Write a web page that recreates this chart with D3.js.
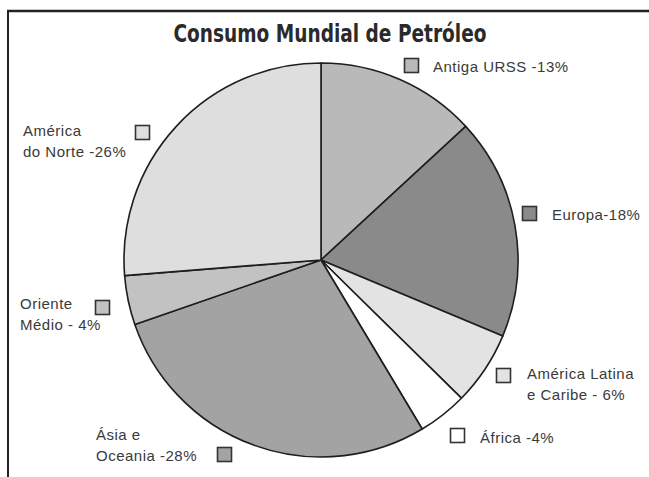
<!DOCTYPE html>
<html><head><meta charset="utf-8">
<script src="https://cdn.jsdelivr.net/npm/d3@7"></script>
<style>html,body{margin:0;padding:0;background:#fff;}svg{display:block;}</style>
</head><body>
<svg id="c" width="649" height="477"></svg>
<script>
const regions = ["Antiga URSS", "Europa", "América Latina e Caribe", "África", "Ásia e Oceania", "Oriente Médio", "América do Norte"];
const shares = [13, 18, 6, 4, 28, 4, 26];
const fills = ["#b9b9b9", "#8a8a8a", "#e3e3e3", "#ffffff", "#a3a3a3", "#c2c2c2", "#dedede"];
const labelLines = [
  ["Antiga URSS -13%"],
  ["Europa-18%"],
  ["América Latina", "e Caribe - 6%"],
  ["África -4%"],
  ["Ásia e", "Oceania -28%"],
  ["Oriente", "Médio - 4%"],
  ["América", "do Norte -26%"]
];
// label layout: square position (x,y) and text anchor (x, first baseline)
const layout = [
  {sx:404, sy:58, tx:433, ty:72},
  {sx:522, sy:206, tx:552, ty:220},
  {sx:496, sy:368, tx:527, ty:379},
  {sx:450, sy:428, tx:480, ty:443},
  {sx:217, sy:447, tx:96, ty:440},
  {sx:95, sy:300, tx:20, ty:309},
  {sx:135, sy:125, tx:23, ty:136}
];

const svg = d3.select("#c");
// frame
svg.append("line").attr("x1",7).attr("x2",649).attr("y1",11).attr("y2",11).attr("stroke","#222").attr("stroke-width",2.5);
svg.append("line").attr("x1",8).attr("x2",8).attr("y1",10).attr("y2",477).attr("stroke","#222").attr("stroke-width",2);

svg.append("text").attr("x",330).attr("y",42).attr("text-anchor","middle")
  .attr("font-family","'Liberation Sans Narrow','DejaVu Sans Condensed',sans-serif")
  .attr("font-weight","bold").attr("font-size",24).attr("fill","#2a2a2a")
  .attr("textLength",313).attr("lengthAdjust","spacingAndGlyphs")
  .text("Consumo Mundial de Petróleo");

const cx = 321, cy = 260, R = 197;
const pie = d3.pie().sort(null).value(d => d);
const arc = d3.arc().innerRadius(0).outerRadius(R);
const g = svg.append("g").attr("transform",`translate(${cx},${cy})`);
g.selectAll("path").data(pie(shares)).join("path")
  .attr("d", arc)
  .attr("fill", (d,i) => fills[i])
  .attr("stroke","#1e1e1e").attr("stroke-width",1.6).attr("stroke-linejoin","round");

const lg = svg.append("g").attr("font-family","'Liberation Sans',Arial,sans-serif").attr("font-size",15)
  .attr("letter-spacing","0.5px").attr("fill","#3a3a3a");
regions.forEach((r,i) => {
  const L = layout[i];
  lg.append("rect").attr("x",L.sx+0.5).attr("y",L.sy+0.5).attr("width",14).attr("height",14)
    .attr("fill",fills[i]).attr("stroke","#333").attr("stroke-width",1.6);
  const t = lg.append("text").attr("x",L.tx).attr("y",L.ty);
  labelLines[i].forEach((s,j) => {
    t.append("tspan").attr("x",L.tx).attr("dy", j===0?0:21).text(s);
  });
});
</script>
</body></html>
